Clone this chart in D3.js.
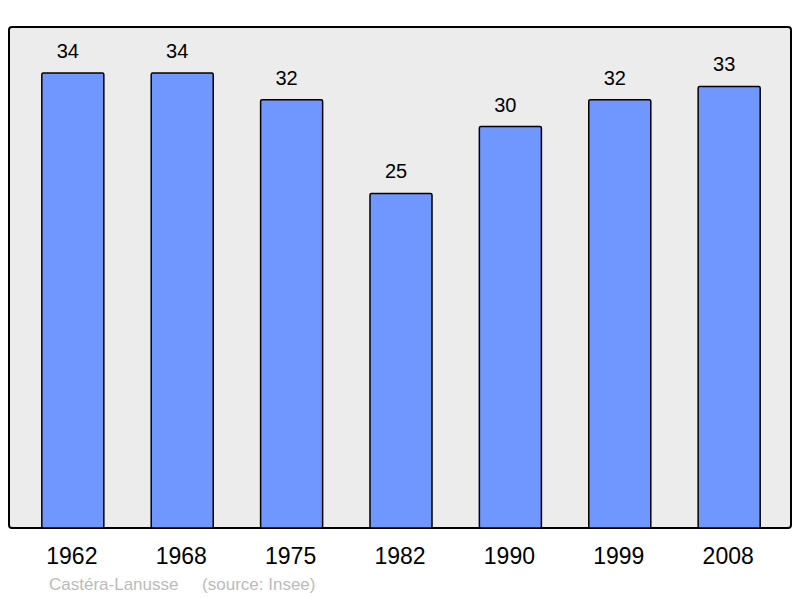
<!DOCTYPE html>
<html>
<head>
<meta charset="utf-8">
<script src="https://cdn.jsdelivr.net/npm/d3@7"></script>
<style>
  body { margin: 0; background: #fff; }
  svg { display: block; font-family: "Liberation Sans", Arial, sans-serif; }
</style>
</head>
<body>
<div id="chart"></div>
<script>
// Population chart

var years = ["1962", "1968", "1975", "1982", "1990", "1999", "2008"];
var population = [34, 34, 32, 25, 30, 32, 33];
var townName = "Castéra-Lanusse";
var sourceText = "(source: Insee)";

var svgWidth = 800, svgHeight = 598;

var svg = d3.select("#chart")
    .append("svg")
        .attr("width", svgWidth)
        .attr("height", svgHeight);

// panel
svg.append("rect")
    .attr("x", 9)
    .attr("y", 27)
    .attr("width", 782)
    .attr("height", 501)
    .attr("rx", 3)
    .attr("fill", "#ececec")
    .attr("stroke", "#000")
    .attr("stroke-width", 2);

var x = d3.scaleBand()
    .domain(years)
    .range([9, 793])
    .paddingInner(0.433)
    .paddingOuter(0.3);

var y = d3.scaleLinear()
    .domain([0, 34])
    .range([528, 73]);

var data = years.map(function(d, i) { return {year: d, value: population[i]}; });

// bars
svg.selectAll("mybar")
    .data(data)
    .enter().append("rect")
        .attr("x", function(d) { return x(d.year); })
        .attr("y", function(d) { return y(d.value); })
        .attr("width", x.bandwidth())
        .attr("height", function(d) { return y(0) - y(d.value); })
        .attr("rx", 1.5)
        .attr("fill", "#7096ff")
        .attr("stroke", "#000")
        .attr("stroke-width", 1.5);

// value labels (sit a little left of the bar centre, like the original)
svg.selectAll("mylabel")
    .data(data)
    .enter().append("text")
        .attr("x", function(d) { return x(d.year) + x.bandwidth() / 2 - 5; })
        .attr("y", function(d) { return y(d.value) - 15; })
        .attr("text-anchor", "middle")
        .style("font-size", "20px")
        .attr("fill", "#000")
        .text(function(d) { return d.value; });

// year axis labels
svg.append("g")
    .attr("transform", "translate(0,528)")
    .call(d3.axisBottom(x).tickSize(0).tickPadding(20))
    .call(function(g) { g.select(".domain").remove(); })
    .selectAll("text")
        .attr("dx", "-1")
        .style("font-size", "23px")
        .style("font-family", "Liberation Sans, Arial, sans-serif")
        .attr("fill", "#000");

// source
svg.append("text")
    .attr("x", 49)
    .attr("y", 590)
    .style("font-size", "17px")
    .attr("fill", "#bbbbbb")
    .attr("xml:space", "preserve")
    .text(townName + "     " + sourceText);
</script>
</body>
</html>
